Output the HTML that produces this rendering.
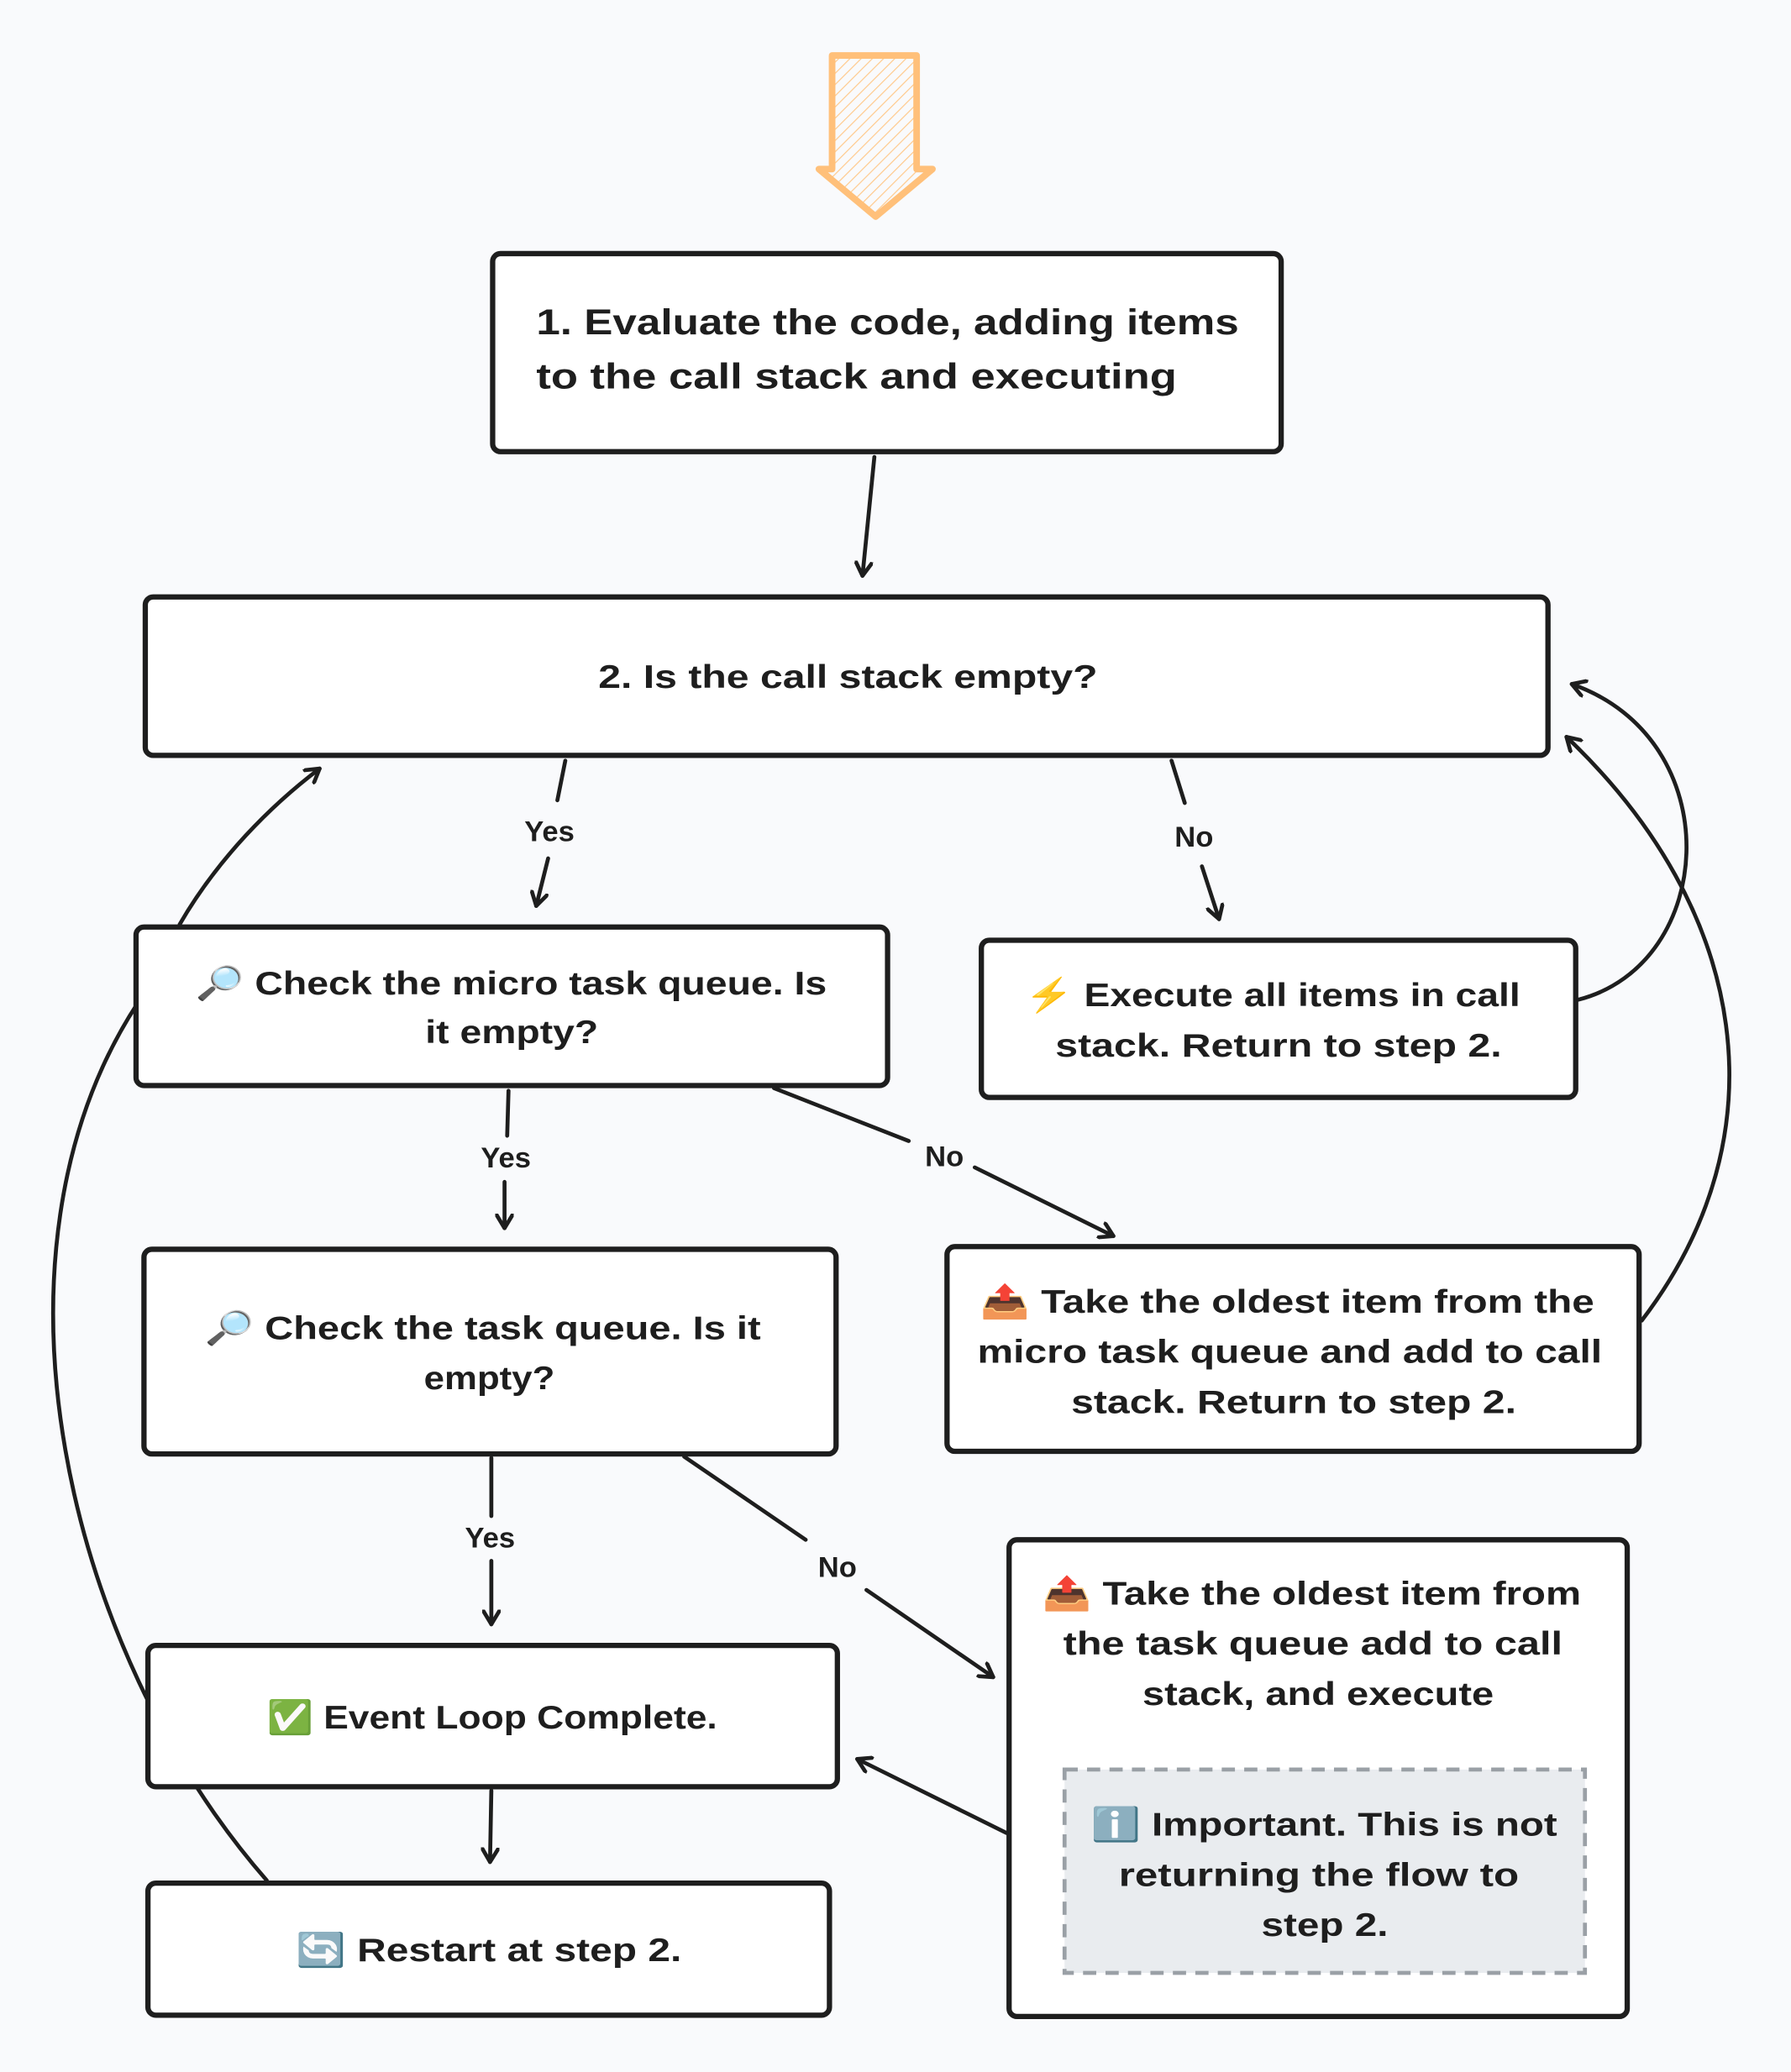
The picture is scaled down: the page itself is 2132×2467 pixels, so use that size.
<!DOCTYPE html>
<html><head><meta charset="utf-8"><style>
html,body{margin:0;padding:0;background:#f9fafc;}
svg{display:block}
text{font-family:"Liberation Sans","Noto Sans CJK JP",sans-serif;font-weight:bold;fill:#1e1e1e;}
</style></head><body>
<svg width="2132" height="2467" viewBox="0 0 1356 1569" xmlns="http://www.w3.org/2000/svg">
<defs>
<pattern id="h" width="6" height="6" patternUnits="userSpaceOnUse" patternTransform="rotate(45)"><line x1="0" y1="0" x2="0" y2="6" stroke="#ffc98a" stroke-width="1.5"/></pattern>
<marker id="a" markerWidth="14" markerHeight="14" refX="11" refY="7" orient="auto" markerUnits="userSpaceOnUse"><path d="M1 1 L11 7 L1 13" fill="none" stroke="#1e1e1e" stroke-width="3" stroke-linecap="round" stroke-linejoin="round"/></marker>
</defs>
<rect width="1356" height="1569" fill="#f9fafc"/>
<path d="M630 42 H694 V128 H706 L663 164 L620 128 H630 Z" fill="url(#h)" stroke="#ffc07a" stroke-width="5" stroke-linejoin="round"/>
<g fill="none" stroke="#1e1e1e" stroke-width="3" stroke-linecap="round">
<path d="M202 1424 C50 1250 -20 950 104 760"/>
</g>
<g fill="#fff" stroke="#1e1e1e" stroke-width="4">
<rect x="373" y="192" width="597" height="150" rx="6"/>
<rect x="110" y="452" width="1062" height="120" rx="6"/>
<rect x="103" y="702" width="569" height="120" rx="6"/>
<rect x="743" y="712" width="450" height="119" rx="6"/>
<rect x="109" y="946" width="524" height="155" rx="6"/>
<rect x="717" y="944" width="524" height="155" rx="6"/>
<rect x="112" y="1246" width="522" height="107" rx="6"/>
<rect x="764" y="1166" width="468" height="361" rx="6"/>
<rect x="112" y="1426" width="516" height="100" rx="6"/>
</g>
<rect x="806" y="1340" width="394" height="154" fill="#e9ecef" stroke="#9aa0a6" stroke-width="3" stroke-dasharray="10 7"/>
<g fill="none" stroke="#1e1e1e" stroke-width="3" stroke-linecap="round" marker-end="url(#a)">
<path d="M662 346 L653 436"/>
<path d="M428 576 L422 606 M415 650 L406 686"/>
<path d="M887 576 L897 608 M910 656 L923 696"/>
<path d="M385 826 L384 860 M382 895 L382 930"/>
<path d="M586 824 L688 864 M738 884 L843 936"/>
<path d="M372 1104 L372 1148 M372 1182 L372 1230"/>
<path d="M518 1103 L610 1166 M656 1204 L752 1270"/>
<path d="M372 1356 L371 1410"/>
<path d="M762 1388 L649 1332"/>
<path d="M1195 757 C1300 730 1310 560 1190 518"/>
<path d="M1243 1000 C1350 860 1325 690 1186 558"/>
<path d="M136 700 C165 650 205 610 242 582"/>
</g>
<g font-size="27">
<text x="406" y="253" textLength="532" lengthAdjust="spacingAndGlyphs">1. Evaluate the code, adding items</text>
<text x="406" y="294" textLength="485" lengthAdjust="spacingAndGlyphs">to the call stack and executing</text>
</g>
<g font-size="25">
<text x="453" y="521" textLength="378" lengthAdjust="spacingAndGlyphs">2. Is the call stack empty?</text>
<text x="148" y="753" textLength="478" lengthAdjust="spacingAndGlyphs">🔎 Check the micro task queue. Is</text>
<text x="322" y="790" textLength="131" lengthAdjust="spacingAndGlyphs">it empty?</text>
<text x="776" y="762" textLength="375" lengthAdjust="spacingAndGlyphs">⚡ Execute all items in call</text>
<text x="799" y="800" textLength="338" lengthAdjust="spacingAndGlyphs">stack. Return to step 2.</text>
<text x="155" y="1014" textLength="421" lengthAdjust="spacingAndGlyphs">🔎 Check the task queue. Is it</text>
<text x="321" y="1052" textLength="99" lengthAdjust="spacingAndGlyphs">empty?</text>
<text x="742" y="994" textLength="465" lengthAdjust="spacingAndGlyphs">📤 Take the oldest item from the</text>
<text x="740" y="1032" textLength="473" lengthAdjust="spacingAndGlyphs">micro task queue and add to call</text>
<text x="811" y="1070" textLength="337" lengthAdjust="spacingAndGlyphs">stack. Return to step 2.</text>
<text x="789" y="1215" textLength="408" lengthAdjust="spacingAndGlyphs">📤 Take the oldest item from</text>
<text x="805" y="1253" textLength="378" lengthAdjust="spacingAndGlyphs">the task queue add to call</text>
<text x="865" y="1291" textLength="266" lengthAdjust="spacingAndGlyphs">stack, and execute</text>
<text x="826" y="1390" textLength="353" lengthAdjust="spacingAndGlyphs">ℹ️ Important. This is not</text>
<text x="847" y="1428" textLength="303" lengthAdjust="spacingAndGlyphs">returning the flow to</text>
<text x="955" y="1466" textLength="96" lengthAdjust="spacingAndGlyphs">step 2.</text>
<text x="202" y="1309" textLength="341" lengthAdjust="spacingAndGlyphs">✅ Event Loop Complete.</text>
<text x="224" y="1485" textLength="292" lengthAdjust="spacingAndGlyphs">🔄 Restart at step 2.</text>
</g>
<g font-size="22" text-anchor="middle">
<text x="416" y="637">Yes</text>
<text x="904" y="641">No</text>
<text x="383" y="884">Yes</text>
<text x="715" y="883">No</text>
<text x="371" y="1172">Yes</text>
<text x="634" y="1194">No</text>
</g>
</svg>
</body></html>
